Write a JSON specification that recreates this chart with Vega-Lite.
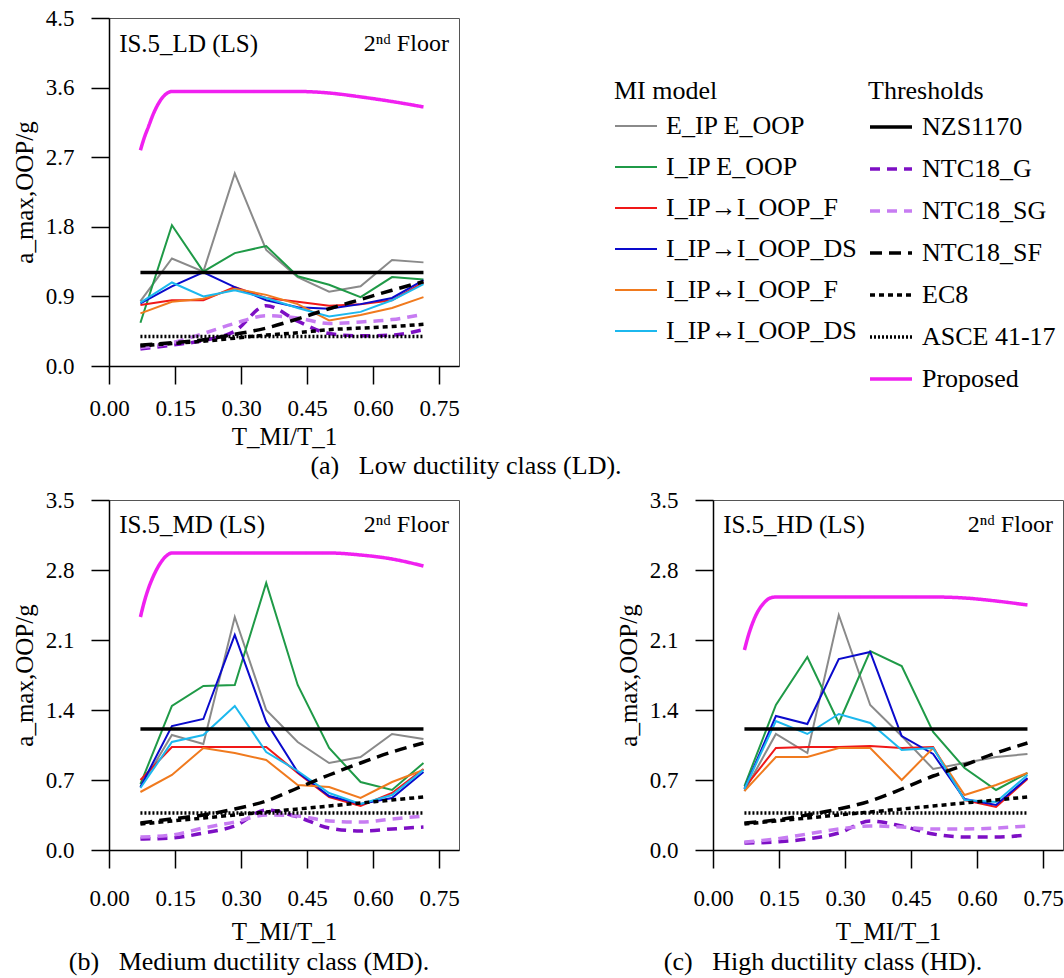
{
  "$schema": "https://vega.github.io/schema/vega-lite/v6.json",
  "padding": {"left": 11, "top": 6, "right": 0, "bottom": 0},
  "background": "white",
  "datasets": {
    "models": [
      {"panel":"LD","T":0.0714,"E_IP E_OOP":0.84,"I_IP E_OOP":0.56,"I_IP→I_OOP_F":0.79,"I_IP→I_OOP_DS":0.81,"I_IP↔I_OOP_F":0.68,"I_IP↔I_OOP_DS":0.82},
      {"panel":"LD","T":0.1429,"E_IP E_OOP":1.39,"I_IP E_OOP":1.82,"I_IP→I_OOP_F":0.85,"I_IP→I_OOP_DS":1.03,"I_IP↔I_OOP_F":0.83,"I_IP↔I_OOP_DS":1.08},
      {"panel":"LD","T":0.2143,"E_IP E_OOP":1.22,"I_IP E_OOP":1.22,"I_IP→I_OOP_F":0.85,"I_IP→I_OOP_DS":1.21,"I_IP↔I_OOP_F":0.87,"I_IP↔I_OOP_DS":0.90},
      {"panel":"LD","T":0.2857,"E_IP E_OOP":2.49,"I_IP E_OOP":1.46,"I_IP→I_OOP_F":1.02,"I_IP→I_OOP_DS":1.02,"I_IP↔I_OOP_F":1.00,"I_IP↔I_OOP_DS":0.98},
      {"panel":"LD","T":0.3571,"E_IP E_OOP":1.50,"I_IP E_OOP":1.55,"I_IP→I_OOP_F":0.88,"I_IP→I_OOP_DS":0.85,"I_IP↔I_OOP_F":0.92,"I_IP↔I_OOP_DS":0.88},
      {"panel":"LD","T":0.4286,"E_IP E_OOP":1.15,"I_IP E_OOP":1.16,"I_IP→I_OOP_F":0.83,"I_IP→I_OOP_DS":0.76,"I_IP↔I_OOP_F":0.80,"I_IP↔I_OOP_DS":0.75},
      {"panel":"LD","T":0.5,"E_IP E_OOP":0.96,"I_IP E_OOP":1.05,"I_IP→I_OOP_F":0.78,"I_IP→I_OOP_DS":0.74,"I_IP↔I_OOP_F":0.59,"I_IP↔I_OOP_DS":0.64},
      {"panel":"LD","T":0.5714,"E_IP E_OOP":1.03,"I_IP E_OOP":0.89,"I_IP→I_OOP_F":0.80,"I_IP→I_OOP_DS":0.80,"I_IP↔I_OOP_F":0.66,"I_IP↔I_OOP_DS":0.70},
      {"panel":"LD","T":0.6429,"E_IP E_OOP":1.37,"I_IP E_OOP":1.15,"I_IP→I_OOP_F":0.85,"I_IP→I_OOP_DS":0.88,"I_IP↔I_OOP_F":0.75,"I_IP↔I_OOP_DS":0.85},
      {"panel":"LD","T":0.7143,"E_IP E_OOP":1.34,"I_IP E_OOP":1.12,"I_IP→I_OOP_F":1.08,"I_IP→I_OOP_DS":1.11,"I_IP↔I_OOP_F":0.89,"I_IP↔I_OOP_DS":1.06},
      {"panel":"MD","T":0.0714,"E_IP E_OOP":0.63,"I_IP E_OOP":0.66,"I_IP→I_OOP_F":0.70,"I_IP→I_OOP_DS":0.63,"I_IP↔I_OOP_F":0.58,"I_IP↔I_OOP_DS":0.62},
      {"panel":"MD","T":0.1429,"E_IP E_OOP":1.15,"I_IP E_OOP":1.44,"I_IP→I_OOP_F":1.03,"I_IP→I_OOP_DS":1.24,"I_IP↔I_OOP_F":0.75,"I_IP↔I_OOP_DS":1.08},
      {"panel":"MD","T":0.2143,"E_IP E_OOP":1.06,"I_IP E_OOP":1.64,"I_IP→I_OOP_F":1.03,"I_IP→I_OOP_DS":1.31,"I_IP↔I_OOP_F":1.02,"I_IP↔I_OOP_DS":1.15},
      {"panel":"MD","T":0.2857,"E_IP E_OOP":2.33,"I_IP E_OOP":1.65,"I_IP→I_OOP_F":1.03,"I_IP→I_OOP_DS":2.15,"I_IP↔I_OOP_F":0.97,"I_IP↔I_OOP_DS":1.44},
      {"panel":"MD","T":0.3571,"E_IP E_OOP":1.40,"I_IP E_OOP":2.67,"I_IP→I_OOP_F":1.03,"I_IP→I_OOP_DS":1.28,"I_IP↔I_OOP_F":0.90,"I_IP↔I_OOP_DS":0.98},
      {"panel":"MD","T":0.4286,"E_IP E_OOP":1.08,"I_IP E_OOP":1.65,"I_IP→I_OOP_F":0.77,"I_IP→I_OOP_DS":0.78,"I_IP↔I_OOP_F":0.65,"I_IP↔I_OOP_DS":0.79},
      {"panel":"MD","T":0.5,"E_IP E_OOP":0.87,"I_IP E_OOP":1.02,"I_IP→I_OOP_F":0.53,"I_IP→I_OOP_DS":0.54,"I_IP↔I_OOP_F":0.63,"I_IP↔I_OOP_DS":0.57},
      {"panel":"MD","T":0.5714,"E_IP E_OOP":0.93,"I_IP E_OOP":0.68,"I_IP→I_OOP_F":0.44,"I_IP→I_OOP_DS":0.46,"I_IP↔I_OOP_F":0.52,"I_IP↔I_OOP_DS":0.46},
      {"panel":"MD","T":0.6429,"E_IP E_OOP":1.16,"I_IP E_OOP":0.60,"I_IP→I_OOP_F":0.57,"I_IP→I_OOP_DS":0.52,"I_IP↔I_OOP_F":0.68,"I_IP↔I_OOP_DS":0.55},
      {"panel":"MD","T":0.7143,"E_IP E_OOP":1.11,"I_IP E_OOP":0.87,"I_IP→I_OOP_F":0.81,"I_IP→I_OOP_DS":0.78,"I_IP↔I_OOP_F":0.80,"I_IP↔I_OOP_DS":0.80},
      {"panel":"HD","T":0.0714,"E_IP E_OOP":0.59,"I_IP E_OOP":0.64,"I_IP→I_OOP_F":0.62,"I_IP→I_OOP_DS":0.61,"I_IP↔I_OOP_F":0.59,"I_IP↔I_OOP_DS":0.61},
      {"panel":"HD","T":0.1429,"E_IP E_OOP":1.16,"I_IP E_OOP":1.45,"I_IP→I_OOP_F":1.02,"I_IP→I_OOP_DS":1.34,"I_IP↔I_OOP_F":0.93,"I_IP↔I_OOP_DS":1.29},
      {"panel":"HD","T":0.2143,"E_IP E_OOP":0.97,"I_IP E_OOP":1.93,"I_IP→I_OOP_F":1.03,"I_IP→I_OOP_DS":1.26,"I_IP↔I_OOP_F":0.93,"I_IP↔I_OOP_DS":1.16},
      {"panel":"HD","T":0.2857,"E_IP E_OOP":2.35,"I_IP E_OOP":1.27,"I_IP→I_OOP_F":1.03,"I_IP→I_OOP_DS":1.91,"I_IP↔I_OOP_F":1.02,"I_IP↔I_OOP_DS":1.36},
      {"panel":"HD","T":0.3571,"E_IP E_OOP":1.45,"I_IP E_OOP":1.99,"I_IP→I_OOP_F":1.04,"I_IP→I_OOP_DS":1.98,"I_IP↔I_OOP_F":1.02,"I_IP↔I_OOP_DS":1.27},
      {"panel":"HD","T":0.4286,"E_IP E_OOP":1.14,"I_IP E_OOP":1.84,"I_IP→I_OOP_F":1.02,"I_IP→I_OOP_DS":1.14,"I_IP↔I_OOP_F":0.70,"I_IP↔I_OOP_DS":1.00},
      {"panel":"HD","T":0.5,"E_IP E_OOP":0.81,"I_IP E_OOP":1.18,"I_IP→I_OOP_F":1.03,"I_IP→I_OOP_DS":0.96,"I_IP↔I_OOP_F":1.02,"I_IP↔I_OOP_DS":1.02},
      {"panel":"HD","T":0.5714,"E_IP E_OOP":0.87,"I_IP E_OOP":0.82,"I_IP→I_OOP_F":0.50,"I_IP→I_OOP_DS":0.51,"I_IP↔I_OOP_F":0.55,"I_IP↔I_OOP_DS":0.50},
      {"panel":"HD","T":0.6429,"E_IP E_OOP":0.93,"I_IP E_OOP":0.60,"I_IP→I_OOP_F":0.43,"I_IP→I_OOP_DS":0.45,"I_IP↔I_OOP_F":0.65,"I_IP↔I_OOP_DS":0.48},
      {"panel":"HD","T":0.7143,"E_IP E_OOP":0.96,"I_IP E_OOP":0.77,"I_IP→I_OOP_F":0.71,"I_IP→I_OOP_DS":0.72,"I_IP↔I_OOP_F":0.77,"I_IP↔I_OOP_DS":0.75}
    ],
    "thr": [
      {"panel":"LD","T":0.0714,"NZS1170":1.21,"NTC18_G":0.22,"NTC18_SG":0.24,"NTC18_SF":0.27,"EC8":0.26,"ASCE 41-17":0.38,"Proposed":2.79},
      {"panel":"LD","T":0.08,"Proposed":2.95},
      {"panel":"LD","T":0.09,"Proposed":3.10},
      {"panel":"LD","T":0.1,"Proposed":3.25},
      {"panel":"LD","T":0.11,"Proposed":3.37},
      {"panel":"LD","T":0.12,"Proposed":3.46},
      {"panel":"LD","T":0.13,"Proposed":3.52},
      {"panel":"LD","T":0.1429,"NZS1170":1.21,"NTC18_G":0.27,"NTC18_SG":0.30,"NTC18_SF":0.30,"EC8":0.29,"ASCE 41-17":0.38,"Proposed":3.55},
      {"panel":"LD","T":0.2143,"NZS1170":1.21,"NTC18_G":0.33,"NTC18_SG":0.42,"NTC18_SF":0.34,"EC8":0.32,"ASCE 41-17":0.38,"Proposed":3.55},
      {"panel":"LD","T":0.2857,"NZS1170":1.21,"NTC18_G":0.45,"NTC18_SG":0.55,"NTC18_SF":0.41,"EC8":0.36,"ASCE 41-17":0.38,"Proposed":3.55},
      {"panel":"LD","T":0.3571,"NZS1170":1.21,"NTC18_G":0.78,"NTC18_SG":0.65,"NTC18_SF":0.49,"EC8":0.40,"ASCE 41-17":0.38,"Proposed":3.55},
      {"panel":"LD","T":0.4286,"NZS1170":1.21,"NTC18_G":0.58,"NTC18_SG":0.62,"NTC18_SF":0.61,"EC8":0.43,"ASCE 41-17":0.38,"Proposed":3.55},
      {"panel":"LD","T":0.5,"NZS1170":1.21,"NTC18_G":0.42,"NTC18_SG":0.55,"NTC18_SF":0.74,"EC8":0.47,"ASCE 41-17":0.38,"Proposed":3.53},
      {"panel":"LD","T":0.5714,"NZS1170":1.21,"NTC18_G":0.39,"NTC18_SG":0.57,"NTC18_SF":0.86,"EC8":0.49,"ASCE 41-17":0.38,"Proposed":3.48},
      {"panel":"LD","T":0.6429,"NZS1170":1.21,"NTC18_G":0.40,"NTC18_SG":0.60,"NTC18_SF":0.98,"EC8":0.51,"ASCE 41-17":0.38,"Proposed":3.42},
      {"panel":"LD","T":0.7143,"NZS1170":1.21,"NTC18_G":0.47,"NTC18_SG":0.67,"NTC18_SF":1.09,"EC8":0.54,"ASCE 41-17":0.38,"Proposed":3.35},
      {"panel":"MD","T":0.0714,"NZS1170":1.21,"NTC18_G":0.11,"NTC18_SG":0.13,"NTC18_SF":0.27,"EC8":0.26,"ASCE 41-17":0.37,"Proposed":2.33},
      {"panel":"MD","T":0.08,"Proposed":2.48},
      {"panel":"MD","T":0.09,"Proposed":2.62},
      {"panel":"MD","T":0.1,"Proposed":2.73},
      {"panel":"MD","T":0.11,"Proposed":2.82},
      {"panel":"MD","T":0.12,"Proposed":2.89},
      {"panel":"MD","T":0.13,"Proposed":2.94},
      {"panel":"MD","T":0.1429,"NZS1170":1.21,"NTC18_G":0.12,"NTC18_SG":0.15,"NTC18_SF":0.31,"EC8":0.29,"ASCE 41-17":0.37,"Proposed":2.97},
      {"panel":"MD","T":0.2143,"NZS1170":1.21,"NTC18_G":0.17,"NTC18_SG":0.22,"NTC18_SF":0.35,"EC8":0.32,"ASCE 41-17":0.37,"Proposed":2.97},
      {"panel":"MD","T":0.2857,"NZS1170":1.21,"NTC18_G":0.24,"NTC18_SG":0.28,"NTC18_SF":0.41,"EC8":0.35,"ASCE 41-17":0.37,"Proposed":2.97},
      {"panel":"MD","T":0.3571,"NZS1170":1.21,"NTC18_G":0.40,"NTC18_SG":0.35,"NTC18_SF":0.49,"EC8":0.38,"ASCE 41-17":0.37,"Proposed":2.97},
      {"panel":"MD","T":0.4286,"NZS1170":1.21,"NTC18_G":0.33,"NTC18_SG":0.34,"NTC18_SF":0.62,"EC8":0.41,"ASCE 41-17":0.37,"Proposed":2.97},
      {"panel":"MD","T":0.5,"NZS1170":1.21,"NTC18_G":0.22,"NTC18_SG":0.29,"NTC18_SF":0.75,"EC8":0.44,"ASCE 41-17":0.37,"Proposed":2.97},
      {"panel":"MD","T":0.5714,"NZS1170":1.21,"NTC18_G":0.19,"NTC18_SG":0.28,"NTC18_SF":0.87,"EC8":0.47,"ASCE 41-17":0.37,"Proposed":2.95},
      {"panel":"MD","T":0.6429,"NZS1170":1.21,"NTC18_G":0.21,"NTC18_SG":0.31,"NTC18_SF":0.98,"EC8":0.50,"ASCE 41-17":0.37,"Proposed":2.91},
      {"panel":"MD","T":0.7143,"NZS1170":1.21,"NTC18_G":0.23,"NTC18_SG":0.34,"NTC18_SF":1.07,"EC8":0.53,"ASCE 41-17":0.37,"Proposed":2.84},
      {"panel":"HD","T":0.0714,"NZS1170":1.21,"NTC18_G":0.07,"NTC18_SG":0.08,"NTC18_SF":0.27,"EC8":0.26,"ASCE 41-17":0.37,"Proposed":2.00},
      {"panel":"HD","T":0.08,"Proposed":2.14},
      {"panel":"HD","T":0.09,"Proposed":2.27},
      {"panel":"HD","T":0.1,"Proposed":2.37},
      {"panel":"HD","T":0.11,"Proposed":2.44},
      {"panel":"HD","T":0.12,"Proposed":2.49},
      {"panel":"HD","T":0.13,"Proposed":2.52},
      {"panel":"HD","T":0.1429,"NZS1170":1.21,"NTC18_G":0.08,"NTC18_SG":0.11,"NTC18_SF":0.30,"EC8":0.29,"ASCE 41-17":0.37,"Proposed":2.53},
      {"panel":"HD","T":0.2143,"NZS1170":1.21,"NTC18_G":0.11,"NTC18_SG":0.16,"NTC18_SF":0.35,"EC8":0.32,"ASCE 41-17":0.37,"Proposed":2.53},
      {"panel":"HD","T":0.2857,"NZS1170":1.21,"NTC18_G":0.17,"NTC18_SG":0.21,"NTC18_SF":0.41,"EC8":0.35,"ASCE 41-17":0.37,"Proposed":2.53},
      {"panel":"HD","T":0.3571,"NZS1170":1.21,"NTC18_G":0.29,"NTC18_SG":0.24,"NTC18_SF":0.49,"EC8":0.38,"ASCE 41-17":0.37,"Proposed":2.53},
      {"panel":"HD","T":0.4286,"NZS1170":1.21,"NTC18_G":0.24,"NTC18_SG":0.23,"NTC18_SF":0.61,"EC8":0.41,"ASCE 41-17":0.37,"Proposed":2.53},
      {"panel":"HD","T":0.5,"NZS1170":1.21,"NTC18_G":0.16,"NTC18_SG":0.21,"NTC18_SF":0.74,"EC8":0.44,"ASCE 41-17":0.37,"Proposed":2.53},
      {"panel":"HD","T":0.5714,"NZS1170":1.21,"NTC18_G":0.13,"NTC18_SG":0.21,"NTC18_SF":0.85,"EC8":0.47,"ASCE 41-17":0.37,"Proposed":2.52},
      {"panel":"HD","T":0.6429,"NZS1170":1.21,"NTC18_G":0.13,"NTC18_SG":0.22,"NTC18_SF":0.97,"EC8":0.50,"ASCE 41-17":0.37,"Proposed":2.49},
      {"panel":"HD","T":0.7143,"NZS1170":1.21,"NTC18_G":0.15,"NTC18_SG":0.24,"NTC18_SF":1.07,"EC8":0.53,"ASCE 41-17":0.37,"Proposed":2.45}
    ]
  },
  "resolve": {"scale": {"color": "independent", "strokeDash": "independent", "strokeWidth": "independent"}},
  "spacing": 8,
  "vconcat": [
    {
      "width": 350,
      "height": 348,
      "title": {"text": "(a)\u00a0\u00a0\u00a0Low ductility class (LD).", "orient": "bottom", "anchor": "middle", "frame": "group", "dx": 182, "offset": 4},
      "resolve": {"scale": {"color": "independent", "strokeDash": "independent", "strokeWidth": "independent"}},
      "layer": [
        {
          "data": {"name": "models"},
          "transform": [
            {"filter": "datum.panel == 'LD'"},
            {"fold": ["E_IP E_OOP", "I_IP E_OOP", "I_IP→I_OOP_F", "I_IP→I_OOP_DS", "I_IP↔I_OOP_F", "I_IP↔I_OOP_DS"], "as": ["model", "v"]}
          ],
          "mark": {"type": "line", "strokeWidth": 2},
          "encoding": {
            "x": {"field": "T", "type": "quantitative", "title": "T_MI/T_1", "scale": {"domain": [0, 0.795], "nice": false, "zero": false},
              "axis": {"values": [0, 0.075, 0.15, 0.225, 0.3, 0.375, 0.45, 0.525, 0.6, 0.675, 0.75], "format": ".2f",
                "labelExpr": "round(datum.value*1000) % 150 == 0 ? datum.label : ''",
                "tickSize": {"condition": {"test": "round(datum.value*1000) % 150 == 0", "value": 18}, "value": 8},
                "labelFont": "Liberation Serif", "titleFont": "Liberation Serif",
                "labelPadding": 13, "titlePadding": 4, "labelFlush": false, "labelOverlap": false}},
            "y": {"field": "v", "type": "quantitative", "title": "a_max,OOP/g", "scale": {"domain": [0, 4.5], "nice": false, "zero": true},
              "axis": {"values": [0, 0.45, 0.9, 1.35, 1.8, 2.25, 2.7, 3.15, 3.6, 4.05, 4.5], "format": ".1f",
                "labelExpr": "round(datum.value*100) % 90 == 0 ? datum.label : ''",
                "tickSize": {"condition": {"test": "round(datum.value*100) % 90 == 0", "value": 18}, "value": 8},
                "labelFont": "Liberation Serif", "titleFont": "Liberation Serif",
                "labelPadding": 17, "titlePadding": 8, "labelOverlap": false}},
            "color": {"field": "model", "type": "nominal",
              "scale": {"domain": ["E_IP E_OOP", "I_IP E_OOP", "I_IP→I_OOP_F", "I_IP→I_OOP_DS", "I_IP↔I_OOP_F", "I_IP↔I_OOP_DS"],
                "range": ["#8a8a8a", "#1f9a47", "#f01818", "#0a0acc", "#f07a1e", "#1cb8ee"]},
              "legend": {"title": "MI model", "orient": "none", "legendX": 505, "legendY": 60, "symbolStrokeWidth": 2, "labelFont": "Liberation Serif", "titleFont": "Liberation Serif"}}
          }
        },
        {
          "data": {"name": "thr"},
          "transform": [
            {"filter": "datum.panel == 'LD'"},
            {"fold": ["NZS1170", "NTC18_G", "NTC18_SG", "NTC18_SF", "EC8", "ASCE 41-17", "Proposed"], "as": ["threshold", "v"]},
            {"filter": "isValid(datum.v)"}
          ],
          "mark": {"type": "line", "interpolate": "monotone"},
          "encoding": {
            "x": {"field": "T", "type": "quantitative", "title": "T_MI/T_1"},
            "y": {"field": "v", "type": "quantitative", "title": "a_max,OOP/g"},
            "color": {"field": "threshold", "type": "nominal",
              "scale": {"domain": ["NZS1170", "NTC18_G", "NTC18_SG", "NTC18_SF", "EC8", "ASCE 41-17", "Proposed"],
                "range": ["#000000", "#7d0fc4", "#c77cf2", "#000000", "#000000", "#000000", "#f020f0"]},
              "legend": {"title": "Thresholds", "orient": "none", "legendX": 759, "legendY": 60, "labelFont": "Liberation Serif", "titleFont": "Liberation Serif"}},
            "strokeDash": {"field": "threshold", "type": "nominal",
              "scale": {"domain": ["NZS1170", "NTC18_G", "NTC18_SG", "NTC18_SF", "EC8", "ASCE 41-17", "Proposed"],
                "range": [[1, 0], [10, 7], [10, 7], [12, 7], [5, 4], [2, 2], [1, 0]]},
              "legend": {"title": "Thresholds", "orient": "none", "legendX": 759, "legendY": 60, "labelFont": "Liberation Serif", "titleFont": "Liberation Serif"}},
            "strokeWidth": {"field": "threshold", "type": "nominal",
              "scale": {"domain": ["NZS1170", "NTC18_G", "NTC18_SG", "NTC18_SF", "EC8", "ASCE 41-17", "Proposed"],
                "range": [3.5, 3.5, 3.5, 3.5, 3, 2.5, 3.5]},
              "legend": {"title": "Thresholds", "orient": "none", "legendX": 759, "legendY": 60, "labelFont": "Liberation Serif", "titleFont": "Liberation Serif"}}
          }
        },
        {
          "data": {"values": [{}]},
          "mark": {"type": "text", "align": "left", "baseline": "middle", "fontSize": 25, "font": "Liberation Serif"},
          "encoding": {
            "x": {"datum": 0.023, "type": "quantitative", "title": "T_MI/T_1"},
            "y": {"datum": 4.16, "type": "quantitative", "title": "a_max,OOP/g"},
            "text": {"value": "IS.5_LD (LS)"}
          }
        },
        {
          "data": {"values": [{}]},
          "mark": {"type": "text", "align": "right", "baseline": "middle", "fontSize": 24, "font": "Liberation Serif"},
          "encoding": {
            "x": {"datum": 0.772, "type": "quantitative", "title": "T_MI/T_1"},
            "y": {"datum": 4.16, "type": "quantitative", "title": "a_max,OOP/g"},
            "text": {"value": "2ⁿᵈ Floor"}
          }
        }
      ]
    },
    {
      "spacing": 155,
      "resolve": {"scale": {"color": "independent", "strokeDash": "independent", "strokeWidth": "independent"}},
      "hconcat": [
        {
          "width": 350,
          "height": 350,
          "title": {"text": "(b)\u00a0\u00a0\u00a0Medium ductility class (MD).", "orient": "bottom", "anchor": "middle", "frame": "group", "dx": -35, "offset": 5},
          "resolve": {"scale": {"color": "independent", "strokeDash": "independent", "strokeWidth": "independent"}},
          "layer": [
            {
              "data": {"name": "models"},
              "transform": [
                {"filter": "datum.panel == 'MD'"},
                {"fold": ["E_IP E_OOP", "I_IP E_OOP", "I_IP→I_OOP_F", "I_IP→I_OOP_DS", "I_IP↔I_OOP_F", "I_IP↔I_OOP_DS"], "as": ["model", "v"]}
              ],
              "mark": {"type": "line", "strokeWidth": 2},
              "encoding": {
                "x": {"field": "T", "type": "quantitative", "title": "T_MI/T_1", "scale": {"domain": [0, 0.795], "nice": false, "zero": false},
                  "axis": {"values": [0, 0.075, 0.15, 0.225, 0.3, 0.375, 0.45, 0.525, 0.6, 0.675, 0.75], "format": ".2f",
                    "labelExpr": "round(datum.value*1000) % 150 == 0 ? datum.label : ''",
                    "tickSize": {"condition": {"test": "round(datum.value*1000) % 150 == 0", "value": 18}, "value": 8},
                    "labelFont": "Liberation Serif", "titleFont": "Liberation Serif",
                    "labelPadding": 19, "titlePadding": 9, "labelFlush": false, "labelOverlap": false}},
                "y": {"field": "v", "type": "quantitative", "title": "a_max,OOP/g", "scale": {"domain": [0, 3.5], "nice": false, "zero": true},
                  "axis": {"values": [0, 0.35, 0.7, 1.05, 1.4, 1.75, 2.1, 2.45, 2.8, 3.15, 3.5], "format": ".1f",
                    "labelExpr": "round(datum.value*100) % 70 == 0 ? datum.label : ''",
                    "tickSize": {"condition": {"test": "round(datum.value*100) % 70 == 0", "value": 18}, "value": 8},
                    "labelFont": "Liberation Serif", "titleFont": "Liberation Serif",
                    "labelPadding": 17, "titlePadding": 8, "labelOverlap": false}},
                "color": {"field": "model", "type": "nominal", "legend": null,
                  "scale": {"domain": ["E_IP E_OOP", "I_IP E_OOP", "I_IP→I_OOP_F", "I_IP→I_OOP_DS", "I_IP↔I_OOP_F", "I_IP↔I_OOP_DS"],
                    "range": ["#8a8a8a", "#1f9a47", "#f01818", "#0a0acc", "#f07a1e", "#1cb8ee"]}}
              }
            },
            {
              "data": {"name": "thr"},
              "transform": [
                {"filter": "datum.panel == 'MD'"},
                {"fold": ["NZS1170", "NTC18_G", "NTC18_SG", "NTC18_SF", "EC8", "ASCE 41-17", "Proposed"], "as": ["threshold", "v"]},
                {"filter": "isValid(datum.v)"}
              ],
              "mark": {"type": "line", "interpolate": "monotone"},
              "encoding": {
                "x": {"field": "T", "type": "quantitative", "title": "T_MI/T_1"},
                "y": {"field": "v", "type": "quantitative", "title": "a_max,OOP/g"},
                "color": {"field": "threshold", "type": "nominal", "legend": null,
                  "scale": {"domain": ["NZS1170", "NTC18_G", "NTC18_SG", "NTC18_SF", "EC8", "ASCE 41-17", "Proposed"],
                    "range": ["#000000", "#7d0fc4", "#c77cf2", "#000000", "#000000", "#000000", "#f020f0"]}},
                "strokeDash": {"field": "threshold", "type": "nominal", "legend": null,
                  "scale": {"domain": ["NZS1170", "NTC18_G", "NTC18_SG", "NTC18_SF", "EC8", "ASCE 41-17", "Proposed"],
                    "range": [[1, 0], [10, 7], [10, 7], [12, 7], [5, 4], [2, 2], [1, 0]]}},
                "strokeWidth": {"field": "threshold", "type": "nominal", "legend": null,
                  "scale": {"domain": ["NZS1170", "NTC18_G", "NTC18_SG", "NTC18_SF", "EC8", "ASCE 41-17", "Proposed"],
                    "range": [3.5, 3.5, 3.5, 3.5, 3, 2.5, 3.5]}}
              }
            },
            {
              "data": {"values": [{}]},
              "mark": {"type": "text", "align": "left", "baseline": "middle", "fontSize": 25, "font": "Liberation Serif"},
              "encoding": {
                "x": {"datum": 0.023, "type": "quantitative", "title": "T_MI/T_1"},
                "y": {"datum": 3.25, "type": "quantitative", "title": "a_max,OOP/g"},
                "text": {"value": "IS.5_MD (LS)"}
              }
            },
            {
              "data": {"values": [{}]},
              "mark": {"type": "text", "align": "right", "baseline": "middle", "fontSize": 24, "font": "Liberation Serif"},
              "encoding": {
                "x": {"datum": 0.772, "type": "quantitative", "title": "T_MI/T_1"},
                "y": {"datum": 3.25, "type": "quantitative", "title": "a_max,OOP/g"},
                "text": {"value": "2ⁿᵈ Floor"}
              }
            }
          ]
        },
        {
          "width": 350,
          "height": 350,
          "title": {"text": "(c)\u00a0\u00a0\u00a0High ductility class (HD).", "orient": "bottom", "anchor": "middle", "frame": "group", "dx": -65, "offset": 5},
          "resolve": {"scale": {"color": "independent", "strokeDash": "independent", "strokeWidth": "independent"}},
          "layer": [
            {
              "data": {"name": "models"},
              "transform": [
                {"filter": "datum.panel == 'HD'"},
                {"fold": ["E_IP E_OOP", "I_IP E_OOP", "I_IP→I_OOP_F", "I_IP→I_OOP_DS", "I_IP↔I_OOP_F", "I_IP↔I_OOP_DS"], "as": ["model", "v"]}
              ],
              "mark": {"type": "line", "strokeWidth": 2},
              "encoding": {
                "x": {"field": "T", "type": "quantitative", "title": "T_MI/T_1", "scale": {"domain": [0, 0.795], "nice": false, "zero": false},
                  "axis": {"values": [0, 0.075, 0.15, 0.225, 0.3, 0.375, 0.45, 0.525, 0.6, 0.675, 0.75], "format": ".2f",
                    "labelExpr": "round(datum.value*1000) % 150 == 0 ? datum.label : ''",
                    "tickSize": {"condition": {"test": "round(datum.value*1000) % 150 == 0", "value": 18}, "value": 8},
                    "labelFont": "Liberation Serif", "titleFont": "Liberation Serif",
                    "labelPadding": 19, "titlePadding": 9, "labelFlush": false, "labelOverlap": false}},
                "y": {"field": "v", "type": "quantitative", "title": "a_max,OOP/g", "scale": {"domain": [0, 3.5], "nice": false, "zero": true},
                  "axis": {"values": [0, 0.35, 0.7, 1.05, 1.4, 1.75, 2.1, 2.45, 2.8, 3.15, 3.5], "format": ".1f",
                    "labelExpr": "round(datum.value*100) % 70 == 0 ? datum.label : ''",
                    "tickSize": {"condition": {"test": "round(datum.value*100) % 70 == 0", "value": 18}, "value": 8},
                    "labelFont": "Liberation Serif", "titleFont": "Liberation Serif",
                    "labelPadding": 17, "titlePadding": 8, "labelOverlap": false}},
                "color": {"field": "model", "type": "nominal", "legend": null,
                  "scale": {"domain": ["E_IP E_OOP", "I_IP E_OOP", "I_IP→I_OOP_F", "I_IP→I_OOP_DS", "I_IP↔I_OOP_F", "I_IP↔I_OOP_DS"],
                    "range": ["#8a8a8a", "#1f9a47", "#f01818", "#0a0acc", "#f07a1e", "#1cb8ee"]}}
              }
            },
            {
              "data": {"name": "thr"},
              "transform": [
                {"filter": "datum.panel == 'HD'"},
                {"fold": ["NZS1170", "NTC18_G", "NTC18_SG", "NTC18_SF", "EC8", "ASCE 41-17", "Proposed"], "as": ["threshold", "v"]},
                {"filter": "isValid(datum.v)"}
              ],
              "mark": {"type": "line", "interpolate": "monotone"},
              "encoding": {
                "x": {"field": "T", "type": "quantitative", "title": "T_MI/T_1"},
                "y": {"field": "v", "type": "quantitative", "title": "a_max,OOP/g"},
                "color": {"field": "threshold", "type": "nominal", "legend": null,
                  "scale": {"domain": ["NZS1170", "NTC18_G", "NTC18_SG", "NTC18_SF", "EC8", "ASCE 41-17", "Proposed"],
                    "range": ["#000000", "#7d0fc4", "#c77cf2", "#000000", "#000000", "#000000", "#f020f0"]}},
                "strokeDash": {"field": "threshold", "type": "nominal", "legend": null,
                  "scale": {"domain": ["NZS1170", "NTC18_G", "NTC18_SG", "NTC18_SF", "EC8", "ASCE 41-17", "Proposed"],
                    "range": [[1, 0], [10, 7], [10, 7], [12, 7], [5, 4], [2, 2], [1, 0]]}},
                "strokeWidth": {"field": "threshold", "type": "nominal", "legend": null,
                  "scale": {"domain": ["NZS1170", "NTC18_G", "NTC18_SG", "NTC18_SF", "EC8", "ASCE 41-17", "Proposed"],
                    "range": [3.5, 3.5, 3.5, 3.5, 3, 2.5, 3.5]}}
              }
            },
            {
              "data": {"values": [{}]},
              "mark": {"type": "text", "align": "left", "baseline": "middle", "fontSize": 25, "font": "Liberation Serif"},
              "encoding": {
                "x": {"datum": 0.023, "type": "quantitative", "title": "T_MI/T_1"},
                "y": {"datum": 3.25, "type": "quantitative", "title": "a_max,OOP/g"},
                "text": {"value": "IS.5_HD (LS)"}
              }
            },
            {
              "data": {"values": [{}]},
              "mark": {"type": "text", "align": "right", "baseline": "middle", "fontSize": 24, "font": "Liberation Serif"},
              "encoding": {
                "x": {"datum": 0.772, "type": "quantitative", "title": "T_MI/T_1"},
                "y": {"datum": 3.25, "type": "quantitative", "title": "a_max,OOP/g"},
                "text": {"value": "2ⁿᵈ Floor"}
              }
            }
          ]
        }
      ]
    }
  ],
  "config": {
    "font": "Liberation Serif",
    "view": {"stroke": "#555555", "strokeWidth": 1},
    "style": {"guide-label": {"font": "Liberation Serif"}, "guide-title": {"font": "Liberation Serif"}, "group-title": {"font": "Liberation Serif"}},
    "axis": {"grid": false, "domainColor": "#000000", "domainWidth": 1.5, "tickColor": "#000000", "tickWidth": 1.5,
      "labelFont": "Liberation Serif", "labelFontSize": 23, "labelColor": "#000000",
      "titleFont": "Liberation Serif", "titleFontSize": 25, "titleFontWeight": "normal", "titleColor": "#000000"},
    "legend": {"labelFont": "Liberation Serif", "labelFontSize": 26, "labelColor": "#000000", "labelLimit": 400, "titleFont": "Liberation Serif", "titleFontSize": 26,
      "titleFontWeight": "normal", "titleColor": "#000000", "symbolType": "stroke", "symbolSize": 1764, "labelOffset": 8, "rowPadding": 6, "titlePadding": 0},
    "title": {"font": "Liberation Serif", "fontSize": 26, "fontWeight": "normal", "color": "#000000"}
  }
}
